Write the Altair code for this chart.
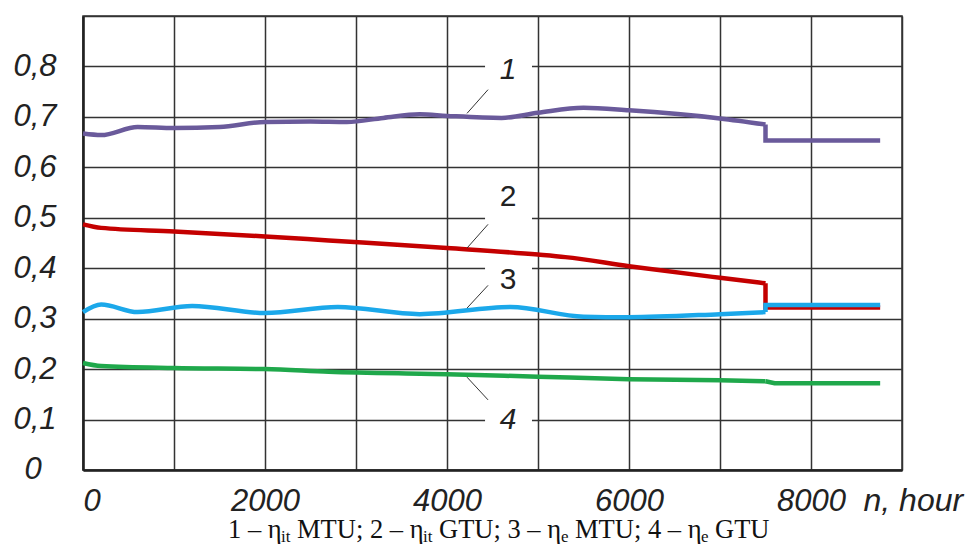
import altair as alt
import pandas as pd

# ---- data ----
curves = ["1", "2", "3", "4"]
colors = ["#6a5a9b", "#c40000", "#1ba8ea", "#1fa84b"]

# smooth part (0 .. 7500 h)
n_1 = [0, 200, 600, 1000, 1500, 2000, 2500, 2900, 3300, 3700, 4000, 4600, 5000, 5500, 6000, 7000, 7500]
eta_1 = [0.667, 0.664, 0.680, 0.678, 0.680, 0.690, 0.691, 0.690, 0.698, 0.705, 0.702, 0.698, 0.708, 0.718, 0.713, 0.697, 0.685]
n_2 = [0, 200, 1000, 2000, 2700, 4000, 5000, 5300, 6000, 7000, 7500]
eta_2 = [0.487, 0.480, 0.473, 0.463, 0.455, 0.440, 0.427, 0.422, 0.404, 0.381, 0.370]
n_3 = [0, 200, 600, 1200, 2000, 2800, 3700, 4700, 5500, 6000, 7000, 7500]
eta_3 = [0.313, 0.328, 0.313, 0.325, 0.311, 0.323, 0.309, 0.323, 0.304, 0.303, 0.309, 0.313]
n_4 = [0, 200, 1000, 2000, 2700, 4000, 5000, 6000, 7000, 7500]
eta_4 = [0.212, 0.206, 0.202, 0.200, 0.195, 0.190, 0.185, 0.180, 0.178, 0.176]

# step part after 7500 h (to 8760 h)
tail_n_1 = [7500, 7500, 8760]
tail_eta_1 = [0.685, 0.653, 0.653]
tail_n_2 = [7500, 7500, 8760]
tail_eta_2 = [0.370, 0.322, 0.322]
tail_n_3 = [7500, 7500, 8760]
tail_eta_3 = [0.313, 0.327, 0.327]
tail_n_4 = [7500, 7600, 8760]
tail_eta_4 = [0.176, 0.172, 0.172]

# curve number annotations
ann_label = ["1", "2", "3", "4"]
ann_n = [4670, 4670, 4670, 4670]
ann_eta = [0.792, 0.541, 0.376, 0.099]
box_n1 = [4418, 4418, 4418, 4418]
box_n2 = [4934, 4934, 4934, 4934]
box_lo = [0.764, 0.491, 0.343, 0.065]
box_hi = [0.828, 0.566, 0.412, 0.129]
lead_n1 = [4451, 4451, 4451, 4220]
lead_eta1 = [0.754, 0.487, 0.366, 0.184]
lead_n2 = [4220, 4220, 4220, 4451]
lead_eta2 = [0.707, 0.440, 0.321, 0.139]

x_ticks = list(range(0, 9001, 1000))
y_ticks = [round(i * 0.1, 1) for i in range(10)]

# caption: (text, left edge in px from plot's left, is subscript)
caption_pieces = [
    ("1 – η", 145, False), ("it", 198, True),
    ("MTU; 2 – η", 214, False), ("it", 340, True),
    ("GTU; 3 – η", 356, False), ("e", 478, True),
    ("MTU; 4 – η", 492, False), ("e", 618, True),
    ("GTU", 632, False),
]

# ---- tables ----
smooth_rows, tail_rows = [], []
for c, ns, vs in zip(curves, [n_1, n_2, n_3, n_4], [eta_1, eta_2, eta_3, eta_4]):
    for i, (n, v) in enumerate(zip(ns, vs)):
        smooth_rows.append({"n": n, "eta": v, "curve": c, "idx": i})
for c, ns, vs in zip(curves, [tail_n_1, tail_n_2, tail_n_3, tail_n_4],
                     [tail_eta_1, tail_eta_2, tail_eta_3, tail_eta_4]):
    for i, (n, v) in enumerate(zip(ns, vs)):
        tail_rows.append({"n": n, "eta": v, "curve": c, "idx": i})
smooth_df = pd.DataFrame(smooth_rows)
tail_df = pd.DataFrame(tail_rows)
ann_df = pd.DataFrame({
    "label": ann_label, "n": ann_n, "eta": ann_eta,
    "bn1": box_n1, "bn2": box_n2, "blo": box_lo, "bhi": box_hi,
    "ln1": lead_n1, "le1": lead_eta1, "ln2": lead_n2, "le2": lead_eta2,
})

SANS = "Liberation Sans"
SERIF = "Liberation Serif"

x_scale = alt.Scale(domain=[0, 9000], nice=False, zero=False)
y_scale = alt.Scale(domain=[0, 0.9], nice=False)

x_axis = alt.Axis(
    values=x_ticks, grid=True, ticks=False,
    labelExpr="datum.value % 2000 == 0 ? format(datum.value, 'd') : ''",
    labelFlush=True, labelOverlap=False, labelPadding=16,
    labelFont=SANS, labelFontSize=31, labelFontStyle="italic", labelColor="#222",
    title="n, hour", titleX=780, titleY=30, titleAlign="left", titleBaseline="middle",
    titleAngle=0, titleFont=SANS, titleFontSize=32, titleFontStyle="italic",
    titleFontWeight="normal", titleColor="#222",
)
y_axis = alt.Axis(
    values=y_ticks, grid=True, ticks=False,
    labelExpr="(datum.value > 0.85 || datum.value < 0.05) ? '' : replace(format(datum.value, '.1f'), '.', ',')",
    labelOverlap=False, labelPadding=27,
    labelFont=SANS, labelFontSize=31, labelFontStyle="italic", labelColor="#222",
    title=None,
)

X = alt.X("n:Q", scale=x_scale, axis=x_axis)
Y = alt.Y("eta:Q", scale=y_scale, axis=y_axis)
color = alt.Color("curve:N", scale=alt.Scale(domain=curves, range=colors), legend=None)

boxes = alt.Chart(ann_df).mark_rect(color="white").encode(
    x=alt.X("bn1:Q", scale=x_scale, axis=x_axis), x2="bn2:Q",
    y=alt.Y("blo:Q", scale=y_scale, axis=y_axis), y2="bhi:Q",
)

smooth = alt.Chart(smooth_df).mark_line(interpolate="monotone", strokeWidth=4.5).encode(
    x=X, y=Y, color=color, detail="curve:N", order="idx:Q"
)
tail = alt.Chart(tail_df).mark_line(strokeWidth=4.5, strokeJoin="miter").encode(
    x=X, y=Y, color=color, detail="curve:N", order="idx:Q"
)

leaders = alt.Chart(ann_df).mark_rule(color="#333", strokeWidth=1).encode(
    x=alt.X("ln1:Q", scale=x_scale, axis=x_axis), x2="ln2:Q",
    y=alt.Y("le1:Q", scale=y_scale, axis=y_axis), y2="le2:Q",
)

labels_italic = alt.Chart(ann_df).transform_filter(
    alt.FieldOneOfPredicate(field="label", oneOf=["1", "4"])
).mark_text(font=SANS, fontSize=30, fontStyle="italic", color="#222", baseline="middle").encode(
    x=X, y=Y, text="label:N"
)
labels_upright = alt.Chart(ann_df).transform_filter(
    alt.FieldOneOfPredicate(field="label", oneOf=["2", "3"])
).mark_text(font=SANS, fontSize=30, color="#222", baseline="middle").encode(
    x=X, y=Y, text="label:N"
)

dummy = pd.DataFrame({"k": [0]})

# the "0" tick label of the y axis sits further left than the others
zero_label = alt.Chart(dummy).mark_text(
    font=SANS, fontSize=31, fontStyle="italic", color="#222", align="center", baseline="middle"
).encode(x=alt.value(-50), y=alt.datum(0, scale=y_scale), text=alt.value("0"))

layers = [boxes, smooth, tail, leaders, labels_italic, labels_upright, zero_label]

for txt, px, sub in caption_pieces:
    layers.append(
        alt.Chart(dummy).mark_text(
            font=SERIF, fontSize=17 if sub else 26.5, align="left", baseline="alphabetic",
            color="#111",
        ).encode(x=alt.value(px), y=alt.value(526 if sub else 522), text=alt.value(txt))
    )

chart = alt.layer(*layers).properties(
    width=819, height=454,
    autosize=alt.AutoSizeParams(type="none"),
    padding={"left": 83, "top": 16, "right": 77, "bottom": 77},
    background="white",
).configure_view(stroke="#333", strokeWidth=1.5).configure_axis(
    gridColor="#333", gridWidth=1.5, gridOpacity=1,
    domainColor="#222", domainWidth=2.5,
)

chart.save("out.html", embed_options={"renderer": "svg", "actions": False})
